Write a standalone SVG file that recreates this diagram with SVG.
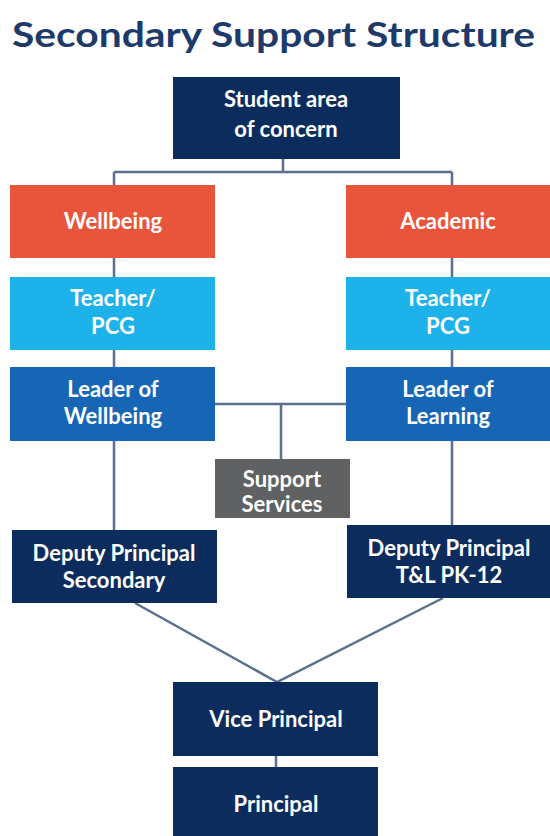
<svg xmlns="http://www.w3.org/2000/svg" width="550" height="836" viewBox="0 0 550 836">
<style>
.t{font-family:Lato,"Liberation Sans",sans-serif;font-weight:bold;font-size:22px;fill:#ffffff;text-anchor:middle}
.title{font-family:Lato,"Liberation Sans",sans-serif;font-weight:bold;font-size:34px;fill:#1d3a6a}
.navy{fill:#0d2c5e}
.orange{fill:#e9553b}
.light{fill:#1db2ea}
.mid{fill:#1766b6}
.gray{fill:#5f6163}
.c{fill:none;stroke:#5b6f8e;stroke-width:2.5}
</style>
<rect width="550" height="836" fill="#ffffff"/>
<text class="title" x="12" y="47" textLength="523" lengthAdjust="spacingAndGlyphs">Secondary Support Structure</text>
<g id="connectors">
<path class="c" d="M283,158 V172 M114,172 H452 M114,172 V185 M452,172 V185"/>
<path class="c" d="M114,258 V277 M452,258 V277"/>
<path class="c" d="M114,350 V367 M452,350 V367"/>
<path class="c" d="M215,404 H346 M281,404 V459"/>
<path class="c" d="M114,441 V530 M452,441 V526"/>
<path class="c" d="M135,603 L277,682 L443,598"/>
<path class="c" d="M276,756 V767"/>
</g>
<g id="student"><rect class="navy" x="173" y="77" width="227" height="82"/><text class="t" x="286" y="107">Student area</text><text class="t" x="286" y="137">of concern</text></g>
<g id="wellbeing"><rect class="orange" x="10" y="185" width="205" height="73"/><text class="t" x="113" y="229">Wellbeing</text></g>
<g id="academic"><rect class="orange" x="346" y="185" width="204" height="73"/><text class="t" x="448" y="229">Academic</text></g>
<g id="teacher-left"><rect class="light" x="10" y="277" width="205" height="73"/><text class="t" x="113" y="306">Teacher/</text><text class="t" x="113" y="334">PCG</text></g>
<g id="teacher-right"><rect class="light" x="346" y="277" width="204" height="73"/><text class="t" x="448" y="306">Teacher/</text><text class="t" x="448" y="334">PCG</text></g>
<g id="leader-wellbeing"><rect class="mid" x="10" y="367" width="205" height="74"/><text class="t" x="113" y="397">Leader of</text><text class="t" x="113" y="424">Wellbeing</text></g>
<g id="leader-learning"><rect class="mid" x="346" y="367" width="204" height="74"/><text class="t" x="448" y="397">Leader of</text><text class="t" x="448" y="424">Learning</text></g>
<g id="support"><rect class="gray" x="215" y="459" width="135" height="59"/><text class="t" x="282" y="487">Support</text><text class="t" x="282" y="512">Services</text></g>
<g id="deputy-secondary"><rect class="navy" x="12" y="530" width="205" height="73"/><text class="t" x="114" y="561">Deputy Principal</text><text class="t" x="114" y="588">Secondary</text></g>
<g id="deputy-tl"><rect class="navy" x="347" y="525" width="203" height="73"/><text class="t" x="449" y="556">Deputy Principal</text><text class="t" x="449" y="583">T&amp;L PK-12</text></g>
<g id="vice-principal"><rect class="navy" x="173" y="682" width="205" height="74"/><text class="t" x="276" y="727">Vice Principal</text></g>
<g id="principal"><rect class="navy" x="173" y="767" width="205" height="69"/><text class="t" x="276" y="812">Principal</text></g>
</svg>
